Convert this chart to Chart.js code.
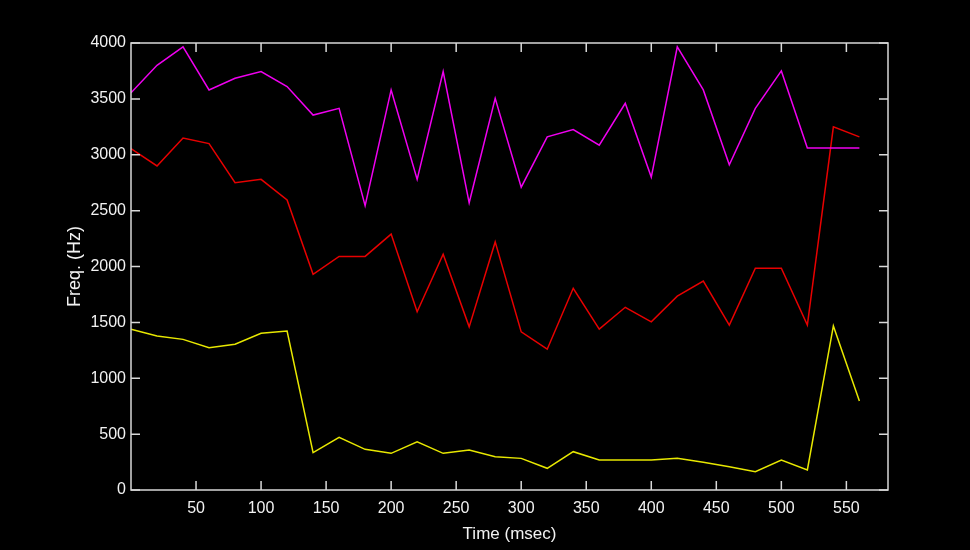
<!DOCTYPE html>
<html>
<head>
<meta charset="utf-8">
<script src="https://cdn.jsdelivr.net/npm/chart.js@4"></script>
<style>
  html, body { margin: 0; padding: 0; background: #000; }
  #wrap { width: 970px; height: 550px; }
</style>
</head>
<body>
<div id="wrap"><canvas id="formant-chart" width="970" height="550"></canvas></div>
<script>
// ------------------- Data ------------------
const timeMs = [0, 20, 40, 60, 80, 100, 120, 140, 160, 180, 200, 220, 240, 260, 280,
                300, 320, 340, 360, 380, 400, 420, 440, 460, 480, 500, 520, 540, 560];

const f3 = [3555, 3800, 3965, 3580, 3685, 3745, 3610, 3355, 3415, 2545, 3580, 2780, 3745, 2570, 3505,
            2710, 3160, 3225, 3085, 3460, 2800, 3965, 3580, 2910, 3415, 3750, 3060, 3060, 3060];

const f2 = [3055, 2900, 3150, 3100, 2750, 2780, 2595, 1930, 2090, 2090, 2290, 1595, 2110, 1460, 2220,
            1415, 1260, 1805, 1440, 1635, 1505, 1735, 1870, 1475, 1985, 1985, 1475, 3250, 3160];

const f1 = [1438, 1378, 1348, 1274, 1304, 1402, 1423, 334, 471, 364, 328, 432, 328, 358, 298,
            283, 194, 343, 268, 268, 268, 283, 248, 208, 164, 268, 179, 1468, 796];

const xTicks = [50, 100, 150, 200, 250, 300, 350, 400, 450, 500, 550];
const yTicks = [0, 500, 1000, 1500, 2000, 2500, 3000, 3500, 4000];

const axisColor = '#d8d8d8';
const textColor = '#f2f2f2';
const fontFamily = "'Liberation Sans', Arial, sans-serif";

function toPoints(vals) {
    return timeMs.map((t, i) => ({ x: t, y: vals[i] }));
}

// ------------------- Frame plugin (box + inward ticks) ------------------
const framePlugin = {
    id: 'frame',
    beforeDraw(chart) {
        const ctx = chart.ctx;
        ctx.save();
        ctx.fillStyle = '#000';
        ctx.fillRect(0, 0, chart.width, chart.height);
        ctx.restore();
    },
    afterDraw(chart) {
        const { ctx, chartArea: a, scales } = chart;
        const len = 9;
        ctx.save();
        ctx.strokeStyle = axisColor;
        ctx.lineWidth = 1.5;
        ctx.strokeRect(a.left, a.top, a.right - a.left, a.bottom - a.top);
        ctx.beginPath();
        xTicks.forEach(v => {
            const px = scales.x.getPixelForValue(v);
            ctx.moveTo(px, a.bottom); ctx.lineTo(px, a.bottom - len);
            ctx.moveTo(px, a.top); ctx.lineTo(px, a.top + len);
        });
        yTicks.forEach(v => {
            const py = scales.y.getPixelForValue(v);
            ctx.moveTo(a.left, py); ctx.lineTo(a.left + len, py);
            ctx.moveTo(a.right, py); ctx.lineTo(a.right - len, py);
        });
        ctx.stroke();
        ctx.restore();
    }
};

// ------------------- Chart Config ------------------
const config = {
    type: 'line',
    data: {
        datasets: [
            { label: 'F3', data: toPoints(f3), borderColor: '#f000f0' },
            { label: 'F2', data: toPoints(f2), borderColor: '#e80000' },
            { label: 'F1', data: toPoints(f1), borderColor: '#e8e800' }
        ]
    },
    options: {
        responsive: false,
        animation: false,
        events: [],
        elements: {
            line: { borderWidth: 1.5, tension: 0, fill: false },
            point: { radius: 0 }
        },
        layout: { padding: { left: 0, top: 43, right: 82, bottom: 0 } },
        plugins: {
            legend: { display: false },
            tooltip: { enabled: false }
        },
        scales: {
            x: {
                type: 'linear',
                min: 0,
                max: 582,
                afterBuildTicks: s => { s.ticks = xTicks.map(v => ({ value: v })); },
                afterFit: s => { s.height = 60; },
                grid: { display: false, drawTicks: false },
                border: { display: false },
                ticks: {
                    color: textColor,
                    font: { family: fontFamily, size: 16 },
                    padding: 9,
                    maxRotation: 0,
                    autoSkip: false,
                    callback: v => String(v)
                },
                title: {
                    display: true,
                    text: 'Time (msec)',
                    color: textColor,
                    font: { family: fontFamily, size: 17 },
                    padding: { top: 0, bottom: 5 }
                }
            },
            y: {
                min: 0,
                max: 4000,
                afterBuildTicks: s => { s.ticks = yTicks.map(v => ({ value: v })); },
                afterFit: s => { s.width = 131; },
                grid: { display: false, drawTicks: false },
                border: { display: false },
                ticks: {
                    color: textColor,
                    font: { family: fontFamily, size: 16 },
                    padding: 5,
                    autoSkip: false,
                    callback: v => String(v)
                },
                title: {
                    display: true,
                    text: 'Freq. (Hz)',
                    color: textColor,
                    font: { family: fontFamily, size: 18 },
                    padding: { top: 64, bottom: 0 }
                }
            }
        }
    },
    plugins: [framePlugin]
};

// ------------------- Initialize Chart ------------------
const myChart = new Chart(document.getElementById('formant-chart'), config);
</script>
</body>
</html>
